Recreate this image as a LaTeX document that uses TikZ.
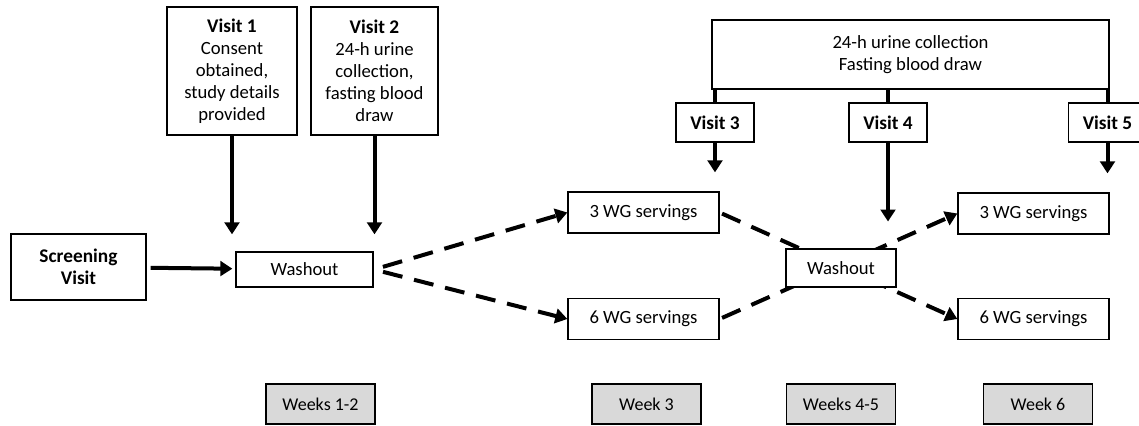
\documentclass[tikz,border=0pt]{standalone}
\usepackage{fontspec}
\setmainfont{Carlito}
\usetikzlibrary{arrows.meta,positioning}
\tikzset{
    box/.style={draw,fill=white,line width=1.2pt,align=center,inner sep=2pt,
        font=\fontsize{14}{16.5}\selectfont},
    visit/.style={box,font=\fontsize{14.5}{16.5}\selectfont\bfseries,minimum width=58.5pt,minimum height=29pt},
    serving/.style={box,minimum width=113pt,minimum height=31pt},
    weekbox/.style={box,fill=gray!30,minimum width=82pt,minimum height=30pt,
        font=\fontsize{13.5}{15}\selectfont},
    flow/.style={-{Triangle[width=11pt,length=9pt]},line width=3pt},
    dashflow/.style={flow,dash pattern=on 15pt off 9pt},
    link/.style={line width=3pt}
}

\begin{document}
\begin{tikzpicture}[x=0.75pt,y=-0.75pt]

    \useasboundingbox (0,0) rectangle (1139,425);

    \node[box,font=\fontsize{14.5}{16.5}\selectfont\bfseries,minimum width=101pt,minimum height=49.5pt]
        (screening) at (78.5,267) {Screening\\Visit};
    \node[box,minimum width=103pt,minimum height=26pt] (wash 1) at (304.5,269.5) {Washout};

    \node[box,minimum width=97.5pt,minimum height=96pt] (visit 1) at (232,71)
        {\textbf{\fontsize{14.5}{16.5}\selectfont Visit 1}\\Consent\\obtained,\\study details\\provided};
    \node[box,minimum width=95pt,minimum height=96pt] (visit 2) at (374.5,71)
        {\textbf{\fontsize{14.5}{16.5}\selectfont Visit 2}\\24-h urine\\collection,\\fasting blood\\draw};

    \node[serving] (three left)  at (643.5,212.5) {3 WG servings};
    \node[serving] (six left)    at (643.5,319)   {6 WG servings};
    \node[serving] (three right) at (1033.5,213.5) {3 WG servings};
    \node[serving] (six right)   at (1033.5,319)   {6 WG servings};

    \node[box,minimum width=298pt,minimum height=52pt] (collect) at (910.5,54.5)
        {24-h urine collection\\Fasting blood draw};
    \node[visit] (visit 3) at (715,122.5)    {Visit 3};
    \node[visit] (visit 4) at (888,122.5)    {Visit 4};
    \node[visit] (visit 5) at (1107.5,122.5) {Visit 5};

    \node[weekbox] (week 12) at (320.5,404) {Weeks 1-2};
    \node[weekbox] (week 3)  at (646.5,404) {Week 3};
    \node[weekbox] (week 45) at (841,404)   {Weeks 4-5};
    \node[weekbox] (week 6)  at (1038,404)  {Week 6};

    \draw[flow,shorten <=3pt,shorten >=2pt] (screening) -- (wash 1);
    \draw[flow,shorten >=12.75pt] (visit 1.south) -- (visit 1.south |- wash 1.north);
    \draw[flow,shorten >=12.75pt] (visit 2.south) -- (visit 2.south |- wash 1.north);

    \draw[dashflow,shorten <=7pt] (wash 1.east) -- (three left.west);
    \draw[dashflow,shorten <=7pt] (wash 1.east) -- (six left.west);

    \draw[link] (visit 3.north) -- (visit 3.north |- collect.south);
    \draw[link] (visit 4.north) -- (visit 4.north |- collect.south);
    \draw[link] (visit 5.north) -- (visit 5.north |- collect.south);
    \draw[flow,shorten >=14pt] (visit 3.south) -- (visit 3.south |- three left.north);
    \draw[flow,shorten >=14pt] (visit 5.south) -- (visit 5.south |- three right.north);

    \draw[dashflow,shorten <=2pt] (three left.east) -- (six right.west);
    \draw[dashflow,shorten <=2pt] (six left.east) -- (three right.west);

    \node[box,minimum width=82.5pt,minimum height=28.5pt] (wash 2) at (841,268) {Washout};
    \draw[flow,shorten >=20pt] (visit 4.south) -- (visit 4.south |- wash 2.north);

\end{tikzpicture}
\end{document}
